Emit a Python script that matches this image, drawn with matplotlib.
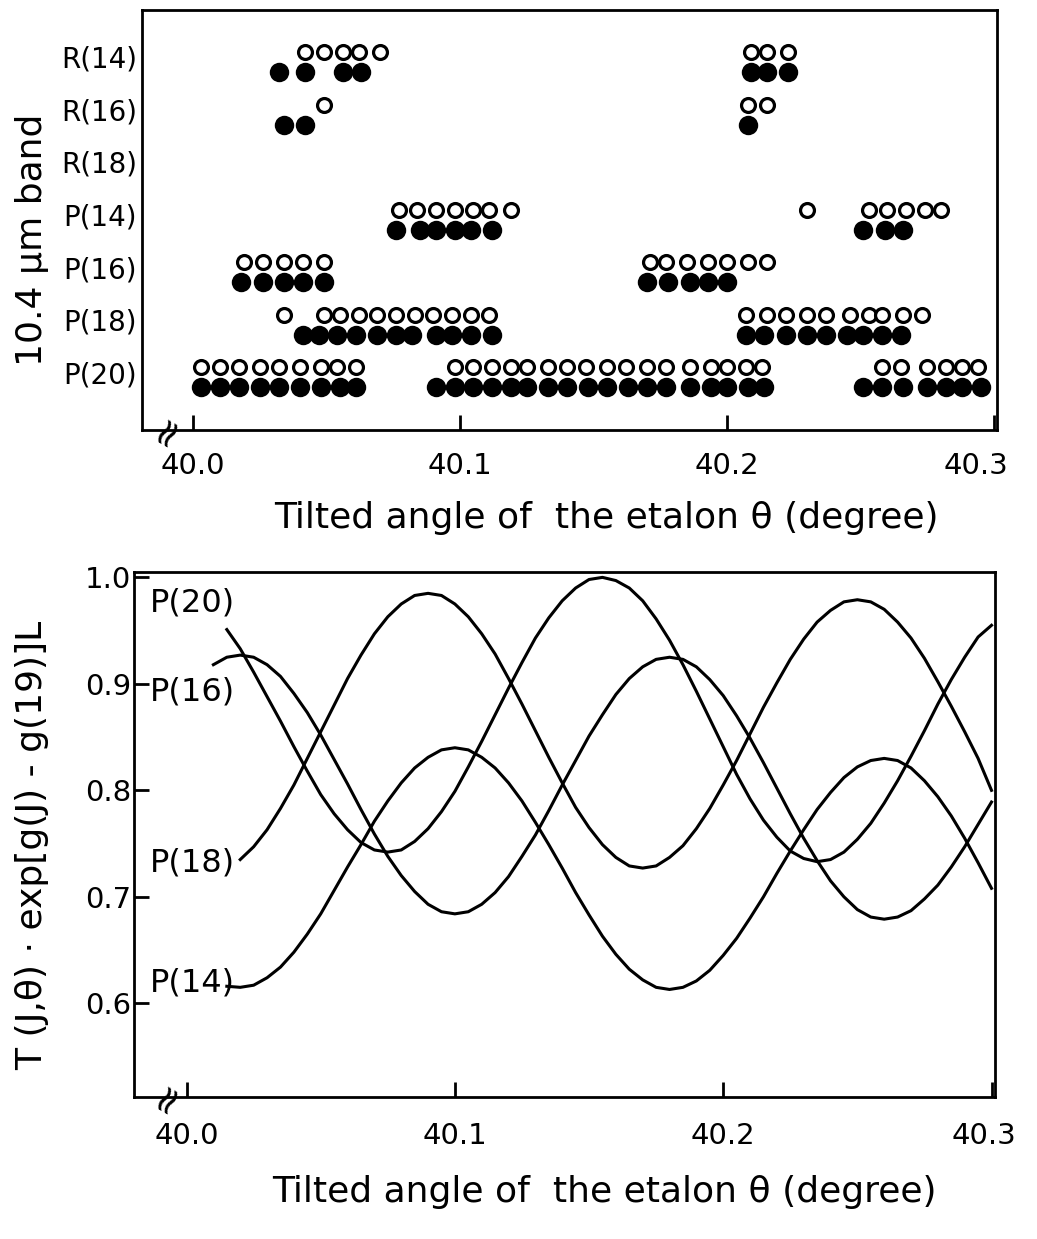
import matplotlib.pyplot as plt
from matplotlib.transforms import ScaledTranslation

plt.rcParams["font.family"] = ["DejaVu Sans"]

# upper panel: lines seen lasing at each tilt angle (open / filled circles)
bands = ["R(14)", "R(16)", "R(18)", "P(14)", "P(16)", "P(18)", "P(20)"]

r14_open = [40.042, 40.049, 40.056, 40.062, 40.070, 40.209, 40.215, 40.223]
r14_filled = [40.032, 40.042, 40.056, 40.063, 40.209, 40.215, 40.223]
r16_open = [40.049, 40.208, 40.215]
r16_filled = [40.034, 40.042, 40.208]
r18_open = []
r18_filled = []
p14_open = [40.077, 40.084, 40.091, 40.098, 40.105, 40.111, 40.119,
            40.230, 40.253, 40.260, 40.267, 40.274, 40.280]
p14_filled = [40.076, 40.085, 40.091, 40.098, 40.104, 40.112,
              40.251, 40.259, 40.266]
p16_open = [40.019, 40.026, 40.034, 40.041, 40.049,
            40.171, 40.177, 40.185, 40.193, 40.200, 40.208, 40.215]
p16_filled = [40.018, 40.026, 40.034, 40.041, 40.049,
              40.170, 40.178, 40.186, 40.193, 40.200]
p18_open = [40.034, 40.049, 40.055, 40.062, 40.069, 40.076, 40.083, 40.090,
            40.097, 40.104, 40.111,
            40.207, 40.215, 40.222, 40.230, 40.237, 40.246, 40.253, 40.258,
            40.266, 40.273]
p18_filled = [40.041, 40.047, 40.054, 40.061, 40.069, 40.076, 40.082, 40.091,
              40.097, 40.104, 40.112,
              40.207, 40.214, 40.222, 40.230, 40.237, 40.245, 40.251, 40.258,
              40.265]
p20_open = [40.003, 40.010, 40.017, 40.025, 40.032, 40.040, 40.048, 40.054,
            40.061,
            40.098, 40.105, 40.112, 40.119, 40.125, 40.133, 40.140, 40.147,
            40.155, 40.162, 40.170, 40.177, 40.186, 40.194, 40.200, 40.207,
            40.213,
            40.258, 40.265, 40.275, 40.282, 40.288, 40.294]
p20_filled = [40.003, 40.010, 40.017, 40.025, 40.032, 40.040, 40.048, 40.055,
              40.061,
              40.091, 40.098, 40.105, 40.112, 40.119, 40.125, 40.133, 40.140,
              40.148, 40.155, 40.163, 40.170, 40.177, 40.186, 40.194, 40.200,
              40.208, 40.214,
              40.251, 40.258, 40.266, 40.275, 40.282, 40.288, 40.295]

open_rows = [r14_open, r16_open, r18_open, p14_open, p16_open, p18_open, p20_open]
filled_rows = [r14_filled, r16_filled, r18_filled, p14_filled, p16_filled,
               p18_filled, p20_filled]

# lower panel: T(J,theta)*exp[g(J)-g(19)]L, sampled every 0.005 degree
theta = [40.010, 40.015, 40.020, 40.025, 40.030, 40.035, 40.040, 40.045,
         40.050, 40.055, 40.060, 40.065, 40.070, 40.075, 40.080, 40.085,
         40.090, 40.095, 40.100, 40.105, 40.110, 40.115, 40.120, 40.125,
         40.130, 40.135, 40.140, 40.145, 40.150, 40.155, 40.160, 40.165,
         40.170, 40.175, 40.180, 40.185, 40.190, 40.195, 40.200, 40.205,
         40.210, 40.215, 40.220, 40.225, 40.230, 40.235, 40.240, 40.245,
         40.250, 40.255, 40.260, 40.265, 40.270, 40.275, 40.280, 40.285,
         40.290, 40.295, 40.300]

t_p20 = [0.951, 0.933, 0.911, 0.888, 0.865, 0.841, 0.818, 0.796, 0.778, 0.763,
         0.751, 0.744, 0.742,
         0.744, 0.752, 0.764, 0.780, 0.799, 0.822, 0.846, 0.871, 0.896, 0.920,
         0.943, 0.962, 0.978, 0.990, 0.998, 1.000,
         0.997, 0.990, 0.978, 0.961, 0.941, 0.918, 0.893, 0.867, 0.841, 0.815,
         0.792, 0.772, 0.756, 0.743, 0.736, 0.733,
         0.735, 0.742, 0.754, 0.769, 0.788, 0.809, 0.832, 0.856, 0.881, 0.904,
         0.925, 0.944, 0.955]

t_p16 = [0.918, 0.925, 0.927, 0.925, 0.918, 0.907, 0.891, 0.873, 0.852, 0.829,
         0.806, 0.782, 0.759, 0.738, 0.720, 0.705, 0.693, 0.686, 0.684,
         0.686, 0.693, 0.704, 0.719, 0.738, 0.758, 0.781, 0.805, 0.828, 0.851,
         0.871, 0.890, 0.905, 0.916, 0.923, 0.925,
         0.923, 0.916, 0.904, 0.889, 0.870, 0.849, 0.826, 0.802, 0.778, 0.755,
         0.734, 0.715, 0.700, 0.688, 0.681, 0.679,
         0.681, 0.687, 0.698, 0.711, 0.728, 0.747, 0.768, 0.789]

t_p18 = [0.735, 0.747, 0.763, 0.783, 0.805, 0.830, 0.855, 0.880, 0.905, 0.927,
         0.947, 0.963, 0.975, 0.983, 0.985,
         0.983, 0.975, 0.963, 0.947, 0.928, 0.905, 0.881, 0.856, 0.831, 0.807,
         0.784, 0.765, 0.749, 0.737, 0.729, 0.727,
         0.729, 0.737, 0.748, 0.764, 0.783, 0.805, 0.828, 0.853, 0.878, 0.901,
         0.923, 0.942, 0.958, 0.969, 0.977, 0.979,
         0.977, 0.970, 0.958, 0.943, 0.924, 0.902, 0.879, 0.855, 0.830, 0.800]

t_p14 = [0.616, 0.615, 0.617, 0.624, 0.634, 0.648, 0.665, 0.684, 0.706, 0.728,
         0.749, 0.771, 0.790, 0.807, 0.821, 0.831, 0.838, 0.840,
         0.838, 0.831, 0.821, 0.807, 0.790, 0.770, 0.749, 0.727, 0.704, 0.683,
         0.663, 0.646, 0.632, 0.622, 0.615, 0.613,
         0.615, 0.621, 0.631, 0.645, 0.661, 0.680, 0.700, 0.722, 0.743, 0.763,
         0.782, 0.798, 0.812, 0.822, 0.828, 0.830,
         0.828, 0.821, 0.809, 0.794, 0.776, 0.755, 0.732, 0.708]

curve_names = ["P(20)", "P(16)", "P(18)", "P(14)"]
curves = [t_p20, t_p16, t_p18, t_p14]
name_y = [0.976, 0.892, 0.732, 0.619]

angle_ticks = [40.0, 40.1, 40.2, 40.3]
angle_labels = ["40.0", "40.1", "40.2", "40.3"]
xlabel = "Tilted angle of  the etalon θ (degree)"

fig = plt.figure(figsize=(10.37, 12.39), dpi=100)

# ---- upper panel
ax1 = fig.add_axes([0.1374, 0.6530, 0.8237, 0.3389])

for i, (o, f) in enumerate(zip(open_rows, filled_rows)):
    if o:
        ax1.plot(o, [i - 0.19] * len(o), "o", ls="none", ms=10,
                 mfc="white", mec="black", mew=2.3)
    if f:
        ax1.plot(f, [i + 0.19] * len(f), "o", ls="none", ms=14,
                 color="black", mew=0)

ax1.set_xlim(39.981, 40.301)
ax1.set_ylim(7.0, -0.99)
ax1.set_yticks([i - 0.1 for i in range(len(bands))], bands)
ax1.tick_params(axis="y", length=0, pad=4, labelsize=20)
ax1.set_xticks(angle_ticks, angle_labels)
ax1.tick_params(axis="x", direction="in", length=11, width=2,
                pad=16, labelsize=21)

ax1.set_xlabel(xlabel, fontsize=26)
ax1.xaxis.set_label_coords(0.543, -0.2095)
ax1.xaxis.label.set_va("center")
ax1.set_ylabel("10.4 μm band", fontsize=26)
ax1.yaxis.set_label_coords(-0.129, 0.452)
ax1.yaxis.label.set_va("center")

# ---- lower panel
ax2 = fig.add_axes([0.1292, 0.1146, 0.8303, 0.4237])

for vals in curves:
    ax2.plot(theta[-len(vals):], vals, color="black", lw=2.2)

for name, y in zip(curve_names, name_y):
    ax2.text(39.9863, y, name, fontsize=23, ha="left", va="center")

ax2.set_xlim(39.9804, 40.3013)
ax2.set_ylim(0.512, 1.005)
ax2.set_yticks([0.6, 0.7, 0.8, 0.9, 1.0], ["0.6", "0.7", "0.8", "0.9", "1.0"])
ax2.tick_params(axis="y", direction="in", length=11, width=2,
                pad=2, labelsize=21)
ax2.set_xticks(angle_ticks, angle_labels)
ax2.tick_params(axis="x", direction="in", length=11, width=2,
                pad=18, labelsize=21)

ax2.set_xlabel(xlabel, fontsize=26)
ax2.xaxis.set_label_coords(0.546, -0.181)
ax2.xaxis.label.set_va("center")
ax2.set_ylabel("T (J,θ) · exp[g(J) - g(19)]L", fontsize=26)
ax2.yaxis.set_label_coords(-0.1185, 0.48)
ax2.yaxis.label.set_va("center")

for ax, bx, shift in ((ax1, 0.0287, -18), (ax2, 0.0383, -8)):
    for s in ax.spines.values():
        s.set_linewidth(2)
    # last tick label sits a bit left of the right spine
    last = ax.get_xticklabels()[-1]
    last.set_transform(last.get_transform()
                       + ScaledTranslation(shift / 100, 0, fig.dpi_scale_trans))
    # axis break mark
    ax.text(bx, 0.0, "≈", transform=ax.transAxes, rotation=60,
            fontsize=28, ha="center", va="center", clip_on=False)

fig.savefig("out.png", dpi=100)
